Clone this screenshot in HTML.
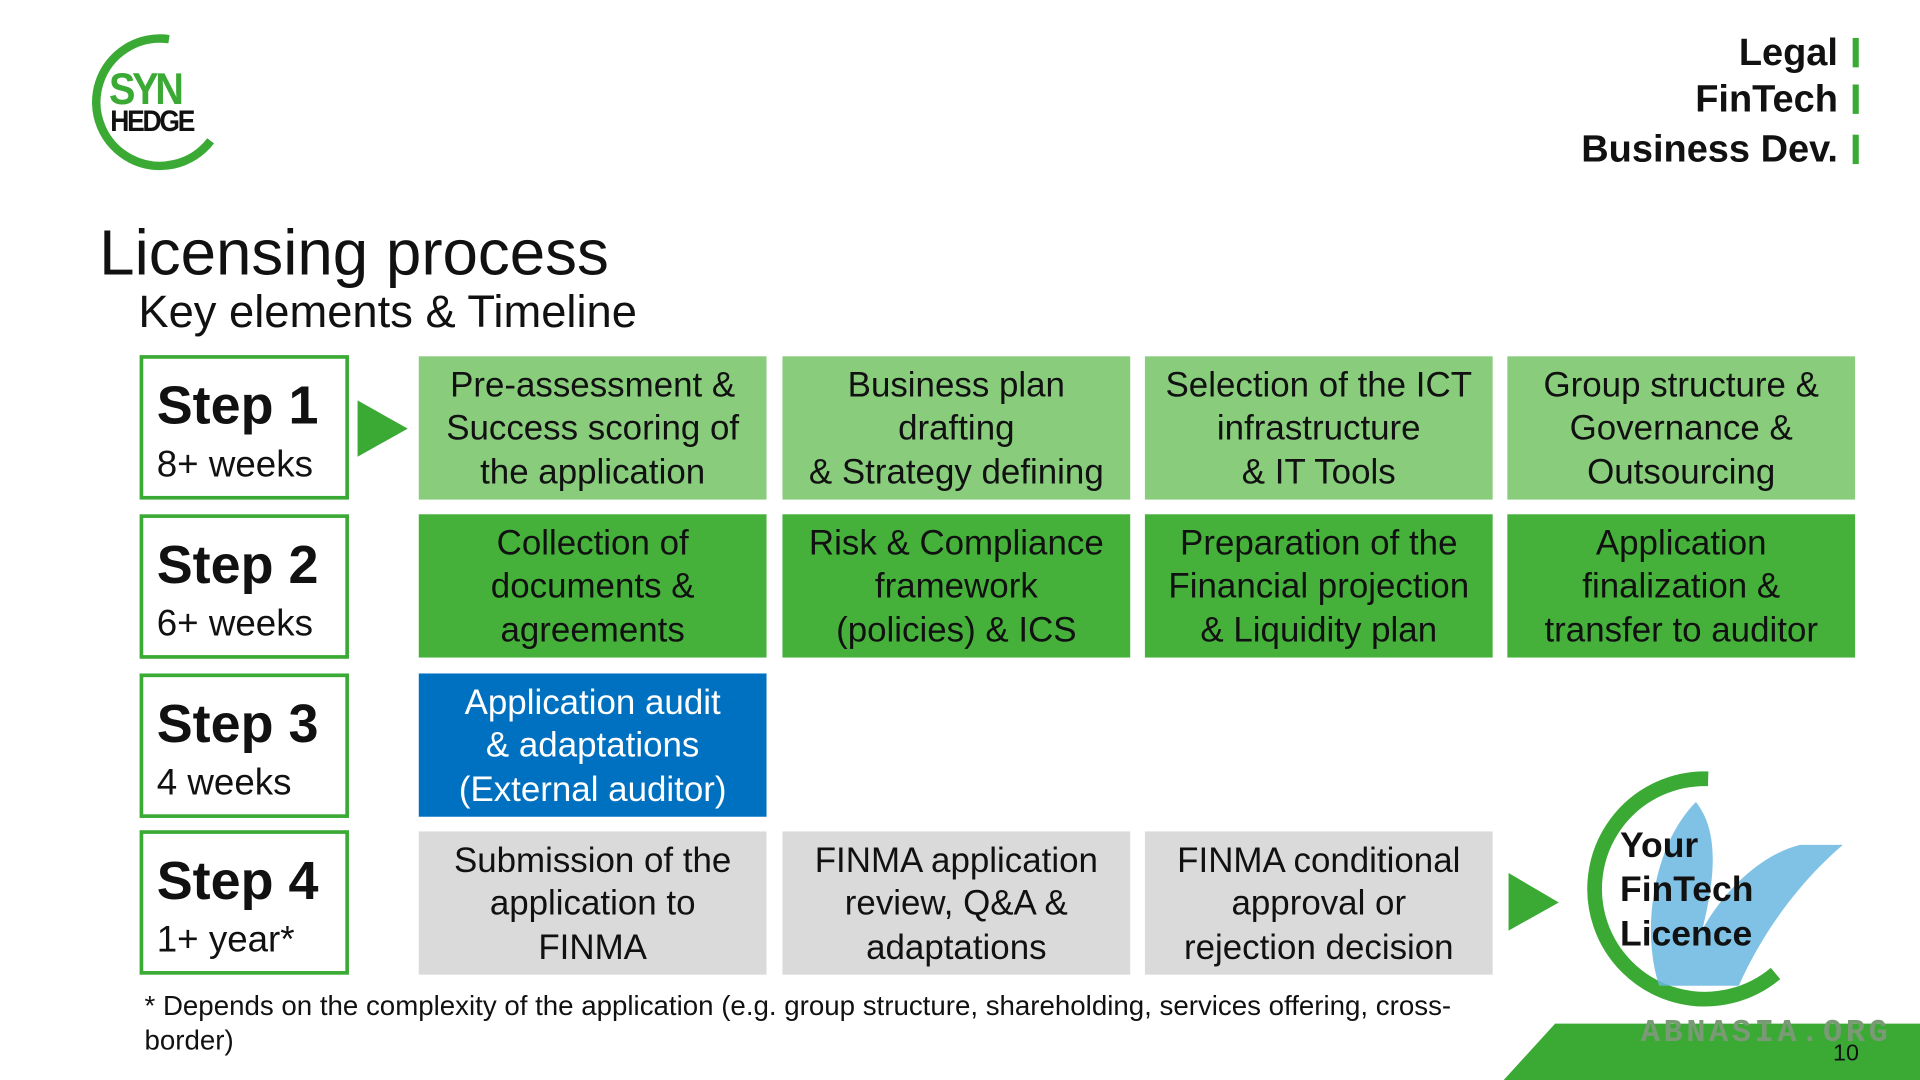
<!DOCTYPE html>
<html><head><meta charset="utf-8"><style>
html,body{margin:0;padding:0;background:#fff;overflow:hidden}
#s{position:absolute;left:0;top:0;width:1568px;height:882px;transform:scale(1.22449);transform-origin:0 0;font-family:"Liberation Sans",sans-serif;color:#111}
.a{position:absolute}
.step{position:absolute;left:114px;width:165px;height:112px;border:3px solid #3aaa35;}
.step b{position:absolute;left:11px;top:14px;font-size:44px}
.step span{position:absolute;left:11px;top:70px;font-size:30px}
.c{position:absolute;display:flex;align-items:center;justify-content:center;text-align:center;font-size:28.5px;line-height:35.5px;width:284px;height:117px;padding-top:3px;box-sizing:border-box}
.l{background:#88cc7c}.g{background:#45b13b}.b{background:#0070c0;color:#fff}.y{background:#dadada}
.r{position:absolute;right:50px;font-size:31px;font-weight:bold;text-align:right}
.r:after{content:"";display:inline-block;width:5px;height:24px;background:#3aaa35;margin-left:12px;vertical-align:-2px}
</style></head><body><div id="s">
<svg class="a" style="left:0;top:0" width="1568" height="882">
<path d="M138 32 A52 52 0 1 0 172 115" fill="none" stroke="#3aaa35" stroke-width="7"/>
<polygon points="292,327 333,350 292,373" fill="#3aaa35"/>
<polygon points="1232,713 1273,737 1232,760" fill="#3aaa35"/>
<path d="M1395 636 A90 90 0 1 0 1450 795" fill="none" stroke="#3aaa35" stroke-width="12"/>
<path d="M1385 655 C1350 690 1340 760 1355 805 L1420 805 C1440 760 1470 720 1505 690 L1470 690 C1430 700 1400 740 1390 760 C1400 720 1405 680 1385 655Z" fill="#6ab7e0" opacity="0.85"/>
<polygon points="1228,882 1270,836 1568,836 1568,882" fill="#3aaa35"/>
</svg>
<div class="a" style="left:89px;top:52px;font-size:36px;font-weight:bold;color:#3aaa35;letter-spacing:-3px;transform:scaleX(0.9);transform-origin:0 0">SYN</div>
<div class="a" style="left:90px;top:86px;font-size:24px;font-weight:bold;letter-spacing:-2px;transform:scaleX(0.9);transform-origin:0 0">HEDGE</div>
<div class="r" style="top:25px">Legal</div>
<div class="r" style="top:63px">FinTech</div>
<div class="r" style="top:104px">Business Dev.</div>
<div class="a" style="left:81px;top:177px;font-size:52px">Licensing process</div>
<div class="a" style="left:113px;top:234px;font-size:37px">Key elements &amp; Timeline</div>
<div class="step" style="top:290px"><b>Step 1</b><span>8+ weeks</span></div>
<div class="step" style="top:420px"><b>Step 2</b><span>6+ weeks</span></div>
<div class="step" style="top:550px"><b>Step 3</b><span>4 weeks</span></div>
<div class="step" style="top:678px"><b>Step 4</b><span>1+ year*</span></div>
<div class="c l" style="left:342px;top:291px">Pre-assessment &amp;<br>Success scoring of<br>the application</div>
<div class="c l" style="left:639px;top:291px">Business plan<br>drafting<br>&amp; Strategy defining</div>
<div class="c l" style="left:935px;top:291px">Selection of the ICT<br>infrastructure<br>&amp; IT Tools</div>
<div class="c l" style="left:1231px;top:291px">Group structure &amp;<br>Governance &amp;<br>Outsourcing</div>
<div class="c g" style="left:342px;top:420px">Collection of<br>documents &amp;<br>agreements</div>
<div class="c g" style="left:639px;top:420px">Risk &amp; Compliance<br>framework<br>(policies) &amp; ICS</div>
<div class="c g" style="left:935px;top:420px">Preparation of the<br>Financial projection<br>&amp; Liquidity plan</div>
<div class="c g" style="left:1231px;top:420px">Application<br>finalization &amp;<br>transfer to auditor</div>
<div class="c b" style="left:342px;top:550px">Application audit<br>&amp; adaptations<br>(External auditor)</div>
<div class="c y" style="left:342px;top:679px">Submission of the<br>application to<br>FINMA</div>
<div class="c y" style="left:639px;top:679px">FINMA application<br>review, Q&amp;A &amp;<br>adaptations</div>
<div class="c y" style="left:935px;top:679px">FINMA conditional<br>approval or<br>rejection decision</div>
<div class="a" style="left:1323px;top:673px;font-size:29px;font-weight:bold;line-height:36px">Your<br>FinTech<br>Licence</div>
<div class="a" style="left:118px;top:808px;font-size:22.6px;line-height:28px;width:1100px">* Depends on the complexity of the application (e.g. group structure, shareholding, services offering, cross-border)</div>
<div class="a" style="left:1340px;top:828px;font-size:26px;font-weight:bold;color:#7a9a76;letter-spacing:3px;font-family:'Liberation Mono',monospace">ABNASIA.ORG</div>
<div class="a" style="left:1497px;top:850px;font-size:19px">10</div>
</div></body></html>
